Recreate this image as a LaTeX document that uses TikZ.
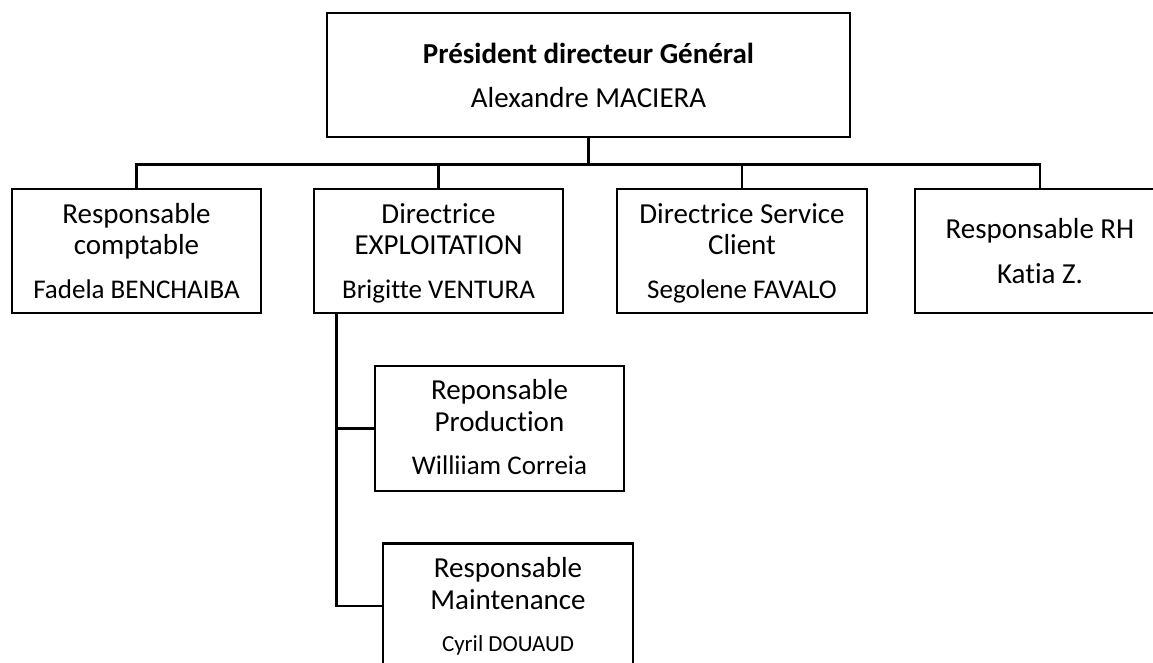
\documentclass[tikz,border=0pt]{standalone}
\usepackage{fontspec}
\setmainfont{Carlito}[Ligatures=NoCommon]
\tikzset{
  x=1pt, y=-1pt,
  orgbox/.style={draw=black, line width=2.8pt, rectangle, inner sep=0pt, minimum height=124pt},
  conn/.style={draw=black, line width=2.8pt},
  ttl/.style={anchor=base, inner sep=0pt, font=\fontsize{29}{31}\selectfont},
  nm/.style={anchor=base, inner sep=0pt, font=\fontsize{27}{29}\selectfont},
}
\begin{document}
\begin{tikzpicture}
\useasboundingbox (0,0) rectangle (1153,663);
\clip (0,0) rectangle (1153,663);
\fill[white] (0,0) rectangle (1153,663);
% boxes
\node[orgbox, minimum width=523pt] (top) at (588.5,75) {};
\node[orgbox, minimum width=249pt] (comp) at (136.5,251) {};
\node[orgbox, minimum width=249pt] (expl) at (438.5,251) {};
\node[orgbox, minimum width=250pt] (serv) at (742,251) {};
\node[orgbox, minimum width=250pt] (rh) at (1040,251) {};
\node[orgbox, minimum width=249pt, minimum height=125pt] (prod) at (499.5,428.5) {};
\node[orgbox, minimum width=250pt, minimum height=125pt] (maint) at (508,606) {};
% texts
\node[ttl, font=\fontsize{29}{31}\selectfont\bfseries] (top1) at (588.5,64) {Président directeur Général};
\node[ttl] (top2) at (588.5,108) {Alexandre MACIERA};
\node[ttl] (comp1) at (136.5,223) {Responsable};
\node[ttl] (comp2) at (136.5,254) {comptable};
\node[nm] (comp3) at (136.5,298) {Fadela BENCHAIBA};
\node[ttl] (expl1) at (438.5,223) {Directrice};
\node[ttl] (expl2) at (438.5,254) {EXPLOITATION};
\node[nm] (expl3) at (438.5,298) {Brigitte VENTURA};
\node[ttl] (serv1) at (742,223) {Directrice Service};
\node[ttl] (serv2) at (742,254) {Client};
\node[nm] (serv3) at (742,298) {Segolene FAVALO};
\node[ttl] (rh1) at (1040,238) {Responsable RH};
\node[ttl] (rh2) at (1040,283) {Katia Z.};
\node[ttl] (prod1) at (499.5,399) {Reponsable};
\node[ttl] (prod2) at (499.5,431) {Production};
\node[nm] (prod3) at (499.5,474) {Williiam Correia};
\node[ttl] (maint1) at (508,577) {Responsable};
\node[ttl] (maint2) at (508,609) {Maintenance};
\node[nm, font=\fontsize{23}{25}\selectfont] (maint3) at (508,651) {Cyril DOUAUD};
% connectors
\coordinate (bus) at ([yshift=-26pt]top.south);
\draw[conn] (top.south) -- (bus);
\foreach \c in {comp,expl,serv,rh} {
  \draw[conn] (bus) -| (\c.north);
}
\coordinate (ev) at ([xshift=24pt]expl.south west);
\draw[conn] (ev) |- (prod.west);
\draw[conn] (ev) |- (maint.west);
\end{tikzpicture}
\end{document}
